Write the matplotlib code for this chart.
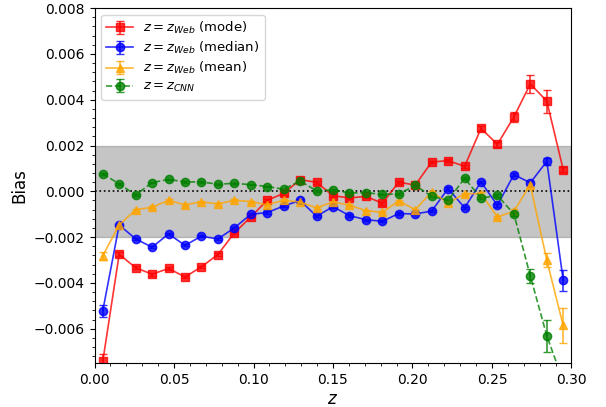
import numpy as np
import matplotlib
matplotlib.use("Agg")
import matplotlib.pyplot as plt
from matplotlib.ticker import MultipleLocator

# bin centres in z
z = [0.0052, 0.0155, 0.0259, 0.0362, 0.0466, 0.0569, 0.0672, 0.0776, 0.0879,
     0.0983, 0.1086, 0.1190, 0.1293, 0.1397, 0.1500, 0.1603, 0.1707, 0.1810,
     0.1914, 0.2017, 0.2121, 0.2224, 0.2328, 0.2431, 0.2534, 0.2638, 0.2741,
     0.2845, 0.2948]

bias_mode = [-0.00742, -0.00275, -0.00334, -0.00362, -0.00337, -0.00374, -0.00330,
             -0.00276, -0.00182, -0.00112, -0.00039, -0.00009, 0.00051, 0.00039,
             -0.00019, -0.00029, -0.00022, -0.00052, 0.00040, 0.00027, 0.00128,
             0.00134, 0.00109, 0.00275, 0.00205, 0.00325, 0.00469, 0.00394, 0.00095]
err_mode = [0.0003, 0.00008, 0.00006, 0.00006, 0.00006, 0.00006, 0.00006, 0.00006,
            0.00006, 0.00006, 0.00006, 0.00006, 0.00006, 0.00006, 0.00006, 0.00006,
            0.00006, 0.00006, 0.00006, 0.00006, 0.00006, 0.00006, 0.00008, 0.0001,
            0.0001, 0.00022, 0.0004, 0.0005, 0.0001]

bias_median = [-0.00521, -0.00147, -0.00208, -0.00244, -0.00186, -0.00236, -0.00196,
               -0.00208, -0.00160, -0.00100, -0.00093, -0.00064, -0.00040, -0.00109,
               -0.00067, -0.00106, -0.00124, -0.00131, -0.00097, -0.00099, -0.00086,
               0.00012, -0.00072, 0.00041, -0.00061, 0.00073, 0.00037, 0.00131, -0.00388]
err_median = [0.00026, 0.00006, 0.00005, 0.00005, 0.00005, 0.00005, 0.00005, 0.00005,
              0.00005, 0.00005, 0.00005, 0.00005, 0.00005, 0.00005, 0.00005, 0.00005,
              0.00005, 0.00005, 0.00005, 0.00005, 0.00005, 0.00005, 0.00005, 0.00006,
              0.00006, 0.00008, 0.0001, 0.00016, 0.00046]

bias_mean = [-0.00281, -0.00147, -0.00080, -0.00070, -0.00039, -0.00059, -0.00046,
             -0.00055, -0.00039, -0.00045, -0.00059, -0.00039, -0.00047, -0.00072,
             -0.00046, -0.00061, -0.00084, -0.00092, -0.00042, -0.00080, -0.00003,
             -0.00051, -0.00011, -0.00010, -0.00112, -0.00087, 0.00029, -0.00301, -0.00586]
err_mean = [0.00017, 0.00005, 0.00004, 0.00004, 0.00004, 0.00004, 0.00004, 0.00004,
            0.00004, 0.00004, 0.00004, 0.00004, 0.00004, 0.00004, 0.00004, 0.00004,
            0.00004, 0.00004, 0.00004, 0.00004, 0.00004, 0.00004, 0.00005, 0.00005,
            0.00006, 0.00008, 0.0001, 0.0003, 0.00075]

bias_cnn = [0.00077, 0.00032, -0.00016, 0.00038, 0.00052, 0.00041, 0.00041, 0.00031,
            0.00035, 0.00029, 0.00021, 0.00009, 0.00045, 0.00002, 0.00006, -0.00007,
            -0.00006, -0.00013, -0.00012, 0.00026, -0.00022, -0.00039, 0.00057,
            -0.00030, -0.00018, -0.00099, -0.00369, -0.00631, -0.0083]
err_cnn = [0.00004, 0.00003, 0.00003, 0.00003, 0.00003, 0.00003, 0.00003, 0.00003,
           0.00003, 0.00003, 0.00003, 0.00003, 0.00003, 0.00003, 0.00003, 0.00003,
           0.00003, 0.00003, 0.00003, 0.00003, 0.00003, 0.00003, 0.00004, 0.00004,
           0.00005, 0.00008, 0.0003, 0.0007, 0.0003]

fig = plt.figure(figsize=(6.06, 4.07), dpi=100)
ax = fig.add_axes([0.156, 0.108, 0.787, 0.872])

ax.axhspan(-0.002, 0.002, color='grey', alpha=0.45, lw=1)
ax.axhline(0, color='black', ls=':', lw=1.2)

ax.errorbar(z, bias_mode, yerr=err_mode, fmt='s-', color='red', capsize=3,
            alpha=0.8, ms=6, lw=1.2, label=r'$z = z_{Web}$ (mode)')
ax.errorbar(z, bias_median, yerr=err_median, fmt='o-', color='blue', capsize=3,
            alpha=0.8, ms=6, lw=1.2, label=r'$z = z_{Web}$ (median)')
ax.errorbar(z, bias_mean, yerr=err_mean, fmt='^-', color='orange', capsize=3,
            alpha=0.8, ms=6, lw=1.2, label=r'$z = z_{Web}$ (mean)')
ax.errorbar(z, bias_cnn, yerr=err_cnn, fmt='o--', color='green', capsize=3,
            alpha=0.8, ms=6, lw=1.2, label=r'$z = z_{CNN}$')

ax.set_xlim(0, 0.3)
ax.set_ylim(-0.0075, 0.008)
ax.set_xticks(np.arange(0, 0.301, 0.05))
ax.set_yticks(np.arange(-0.006, 0.0081, 0.002))
ax.xaxis.set_minor_locator(MultipleLocator(0.01))
ax.yaxis.set_minor_locator(MultipleLocator(0.0004))
ax.set_xlabel(r'$z$', fontsize=12, labelpad=2)
ax.set_ylabel('Bias', fontsize=12)
ax.legend(loc='upper left', fontsize=9.5, labelspacing=0.3)

fig.savefig('out.png', dpi=100)
